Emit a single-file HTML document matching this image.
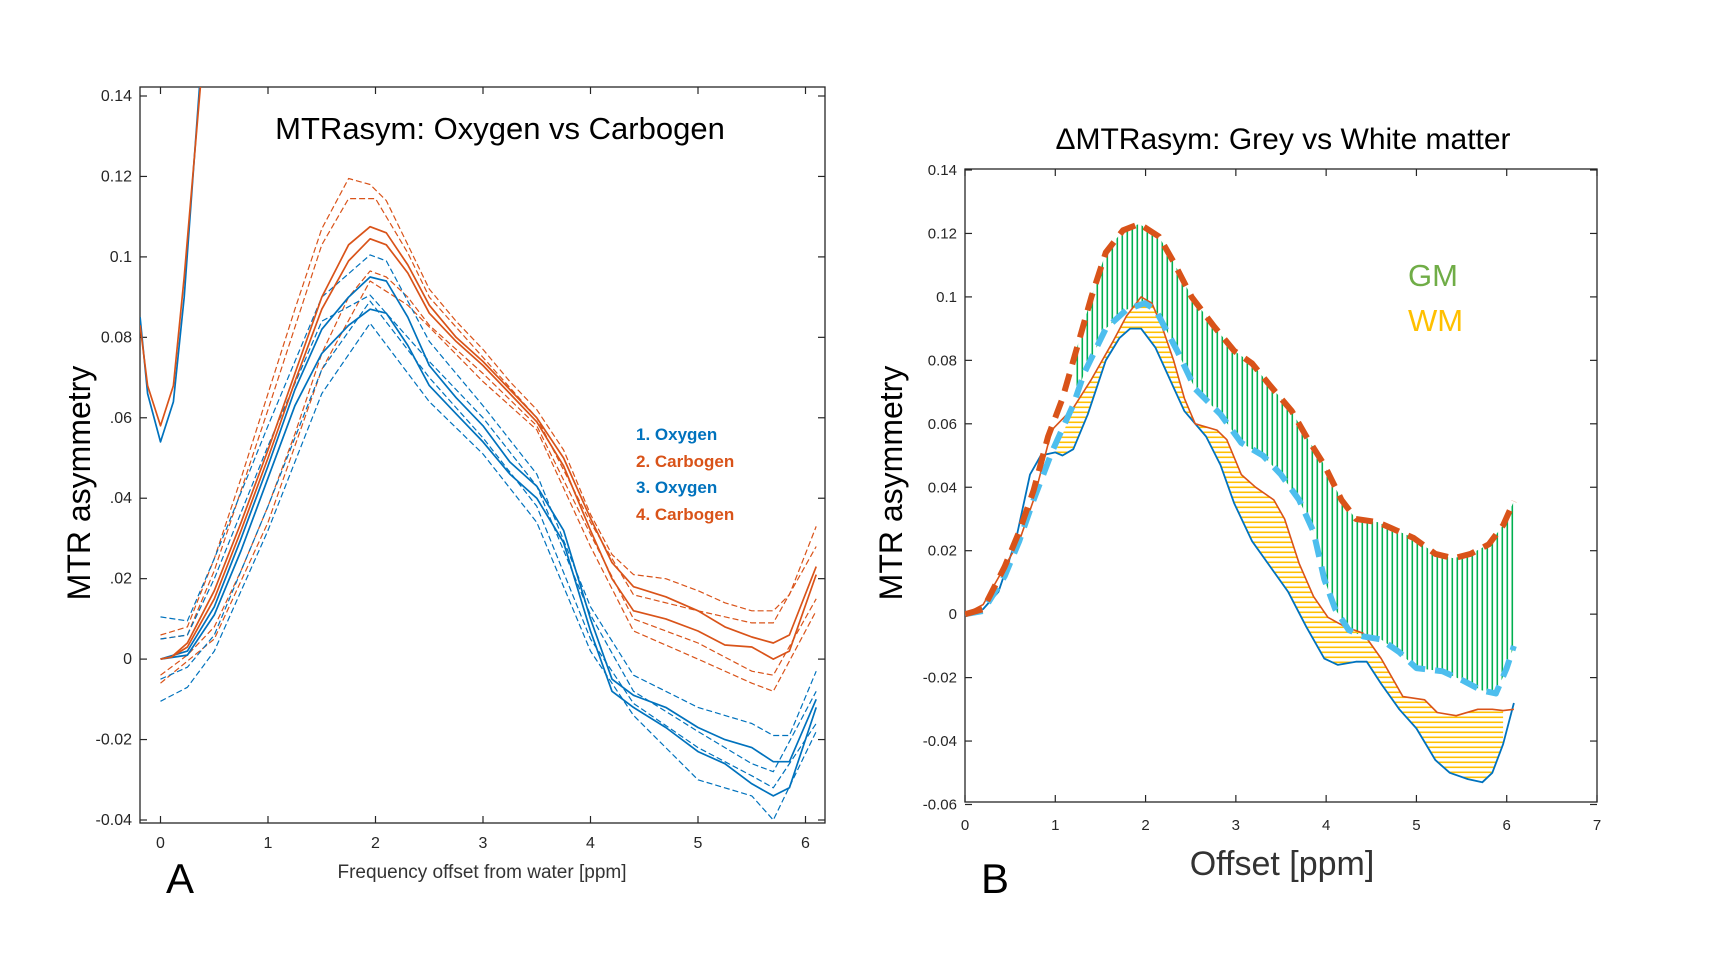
<!DOCTYPE html>
<html><head><meta charset="utf-8"><style>
html,body{margin:0;padding:0;background:#fff;}
svg{display:block;font-family:"Liberation Sans",sans-serif;}
</style></head><body>
<svg id="fig" width="1711" height="962" viewBox="0 0 1711 962">
<defs>
<pattern id="vhatch" width="5" height="10" patternUnits="userSpaceOnUse"><rect x="1.5" y="0" width="1.6" height="10" fill="#00B050"/></pattern>
<pattern id="hhatch" width="10" height="5" patternUnits="userSpaceOnUse"><rect x="0" y="1.5" width="10" height="1.6" fill="#FFC000"/></pattern>
<clipPath id="clipA"><rect x="140" y="87" width="685" height="736"/></clipPath>
<clipPath id="clipB"><rect x="965" y="169" width="632" height="633"/></clipPath>
</defs>
<g id="panelA"></g>
<g id="panelB"></g>
<text x="500" y="139" font-size="31" text-anchor="middle" fill="#000">MTRasym: Oxygen vs Carbogen</text>
<text x="1283" y="149" font-size="30" text-anchor="middle" fill="#000">ΔMTRasym: Grey vs White matter</text>
<text transform="translate(90,483) rotate(-90)" font-size="32" text-anchor="middle" fill="#000">MTR asymmetry</text>
<text transform="translate(902,483) rotate(-90)" font-size="32" text-anchor="middle" fill="#000">MTR asymmetry</text>
<text x="482" y="878" font-size="19" text-anchor="middle" fill="#333">Frequency offset from water  [ppm]</text>
<text x="1282" y="875" font-size="34" text-anchor="middle" fill="#333">Offset [ppm]</text>
<text x="180" y="893" font-size="42" text-anchor="middle" fill="#000">A</text>
<text x="995" y="893" font-size="42" text-anchor="middle" fill="#000">B</text>
<g font-size="17" font-weight="bold">
<text x="636" y="440" fill="#0072BD">1. Oxygen</text>
<text x="636" y="467" fill="#D95319">2. Carbogen</text>
<text x="636" y="493" fill="#0072BD">3. Oxygen</text>
<text x="636" y="520" fill="#D95319">4. Carbogen</text>
</g>
<text x="1408" y="286" font-size="31" fill="#70AD47">GM</text>
<text x="1408" y="331" font-size="31" fill="#FFC000">WM</text>
</svg>
<script>
// ---- Panel A data ----
const aXTicks = [0,1,2,3,4,5,6];
const aYTicks = [0.14,0.12,0.1,0.08,0.06,0.04,0.02,0,-0.02,-0.04];
const aYTickLabels = ["0.14","0.12","0.1","0.08",".06",".04",".02","0","-0.02","-0.04"];
const spikeOrange = [[-0.19,0.083],[-0.12,0.068],[0,0.058],[0.12,0.068],[0.22,0.095],[0.38,0.145]];
const spikeBlue = [[-0.19,0.085],[-0.12,0.066],[0,0.054],[0.12,0.064],[0.22,0.09],[0.37,0.145]];
const carbSolid1 = [[0,0],[0.1,0.0005],[0.25,0.004],[0.5,0.017],[0.75,0.034],[1,0.052],[1.25,0.071],[1.5,0.09],[1.75,0.103],[1.95,0.1075],[2.1,0.106],[2.3,0.098],[2.5,0.088],[2.75,0.08],[3,0.074],[3.25,0.067],[3.5,0.06],[3.75,0.05],[4,0.035],[4.2,0.024],[4.4,0.018],[4.7,0.0155],[5,0.012],[5.25,0.008],[5.5,0.0055],[5.7,0.004],[5.85,0.006],[6.1,0.023]];
const carbSolid2 = [[0,0],[0.1,0.0005],[0.25,0.003],[0.5,0.015],[0.75,0.032],[1,0.05],[1.25,0.069],[1.5,0.087],[1.75,0.099],[1.95,0.1045],[2.1,0.103],[2.3,0.096],[2.5,0.086],[2.75,0.079],[3,0.073],[3.25,0.066],[3.5,0.059],[3.75,0.048],[4,0.032],[4.2,0.02],[4.4,0.012],[4.7,0.01],[5,0.007],[5.25,0.0035],[5.5,0.003],[5.7,0.0],[5.85,0.002],[6.1,0.021]];
const oxySolid1 = [[0,0],[0.25,0.002],[0.5,0.013],[0.75,0.03],[1,0.048],[1.25,0.067],[1.5,0.082],[1.75,0.09],[1.95,0.095],[2.1,0.094],[2.3,0.085],[2.5,0.073],[2.75,0.065],[3,0.058],[3.25,0.049],[3.5,0.043],[3.75,0.032],[4,0.01],[4.2,-0.005],[4.4,-0.009],[4.7,-0.012],[5,-0.017],[5.25,-0.02],[5.5,-0.022],[5.7,-0.0255],[5.85,-0.0255],[6.1,-0.01]];
const oxySolid2 = [[0,0],[0.25,0.001],[0.5,0.011],[0.75,0.027],[1,0.045],[1.25,0.063],[1.5,0.076],[1.75,0.083],[1.95,0.087],[2.1,0.086],[2.3,0.078],[2.5,0.068],[2.75,0.061],[3,0.054],[3.25,0.046],[3.5,0.04],[3.75,0.029],[4,0.007],[4.2,-0.008],[4.4,-0.012],[4.7,-0.017],[5,-0.023],[5.25,-0.026],[5.5,-0.031],[5.7,-0.034],[5.85,-0.032],[6.1,-0.012]];
const carbDash1 = [[0,0.006],[0.25,0.008],[0.5,0.025],[0.75,0.045],[1,0.066],[1.25,0.087],[1.5,0.107],[1.75,0.1195],[1.95,0.118],[2.1,0.114],[2.3,0.103],[2.5,0.092],[2.75,0.084],[3,0.077],[3.25,0.069],[3.5,0.062],[3.75,0.052],[4,0.036],[4.2,0.026],[4.4,0.021],[4.7,0.02],[5,0.017],[5.25,0.014],[5.5,0.012],[5.7,0.012],[5.85,0.016],[6.1,0.033]];
const carbDash2 = [[0,0.005],[0.25,0.006],[0.5,0.022],[1,0.062],[1.5,0.103],[1.75,0.1145],[2,0.1145],[2.3,0.101],[2.5,0.09],[3,0.075],[3.5,0.06],[4,0.034],[4.4,0.016],[5,0.012],[5.5,0.009],[5.7,0.009],[6.1,0.028]];
const carbDash3 = [[0,-0.004],[0.25,0.001],[0.5,0.008],[0.75,0.022],[1,0.038],[1.25,0.056],[1.5,0.076],[1.75,0.09],[1.95,0.0965],[2.1,0.095],[2.3,0.09],[2.5,0.083],[3,0.071],[3.5,0.058],[4,0.031],[4.4,0.01],[5,0.004],[5.5,-0.003],[5.7,-0.004],[6.1,0.015]];
const carbDash4 = [[0,-0.006],[0.5,0.005],[1,0.034],[1.5,0.072],[1.95,0.094],[2.3,0.088],[3,0.069],[3.5,0.057],[4,0.028],[4.4,0.007],[5,0.0],[5.5,-0.006],[5.7,-0.008],[6.1,0.012]];
const oxyDash1 = [[0,0.0105],[0.25,0.0095],[0.5,0.025],[1,0.058],[1.5,0.09],[1.95,0.1005],[2.1,0.099],[2.5,0.079],[3,0.063],[3.5,0.046],[4,0.013],[4.4,-0.004],[5,-0.012],[5.5,-0.016],[5.7,-0.019],[5.85,-0.019],[6.1,-0.003]];
const oxyDash2 = [[0,0.005],[0.25,0.006],[0.5,0.02],[1,0.053],[1.5,0.084],[1.95,0.0905],[2.5,0.074],[3,0.06],[3.5,0.043],[4,0.011],[4.4,-0.008],[5,-0.018],[5.5,-0.026],[5.7,-0.028],[6.1,-0.008]];
const oxyDash3 = [[0,-0.005],[0.25,-0.002],[0.5,0.006],[1,0.038],[1.5,0.072],[1.95,0.089],[2.5,0.07],[3,0.055],[3.5,0.038],[4,0.005],[4.4,-0.011],[5,-0.022],[5.5,-0.029],[5.7,-0.032],[6.1,-0.016]];
const oxyDash4 = [[0,-0.0105],[0.25,-0.007],[0.5,0.002],[1,0.032],[1.5,0.066],[1.95,0.0835],[2.5,0.064],[3,0.051],[3.5,0.034],[4,0.002],[4.4,-0.014],[5,-0.03],[5.5,-0.034],[5.7,-0.04],[6.1,-0.018]];
// ---- Panel B data ----
const bXTicks = [0,1,2,3,4,5,6,7];
const bYTicks = [0.14,0.12,0.1,0.08,0.06,0.04,0.02,0,-0.02,-0.04,-0.06];
const bYTickLabels = ["0.14","0.12","0.1","0.08","0.06","0.04","0.02","0","-0.02","-0.04","-0.06"];
const gmCarbogen = [[0,0],[0.2,0.0016],[0.44,0.015],[0.6,0.026],[0.76,0.039],[0.92,0.056],[1.08,0.068],[1.24,0.084],[1.4,0.1],[1.56,0.114],[1.75,0.121],[1.93,0.123],[2.15,0.119],[2.31,0.111],[2.51,0.1],[2.75,0.091],[2.98,0.083],[3.18,0.079],[3.38,0.072],[3.62,0.064],[3.78,0.056],[3.98,0.047],[4.17,0.036],[4.33,0.03],[4.57,0.029],[4.73,0.027],[4.97,0.024],[5.21,0.019],[5.41,0.0176],[5.6,0.019],[5.8,0.022],[5.96,0.028],[6.08,0.0356]];
const gmOxygen = [[0,0],[0.2,0.001],[0.44,0.012],[0.6,0.023],[0.76,0.036],[0.96,0.051],[1.2,0.066],[1.32,0.076],[1.56,0.09],[1.79,0.096],[1.99,0.098],[2.11,0.096],[2.35,0.083],[2.55,0.071],[2.83,0.063],[3.06,0.054],[3.3,0.05],[3.5,0.044],[3.7,0.036],[3.86,0.026],[3.98,0.011],[4.1,0.0016],[4.25,-0.005],[4.41,-0.007],[4.61,-0.008],[4.81,-0.012],[5,-0.017],[5.29,-0.018],[5.52,-0.021],[5.72,-0.024],[5.88,-0.025],[6,-0.017],[6.08,-0.01]];
const wmCarbogen = [[0,0],[0.2,0.003],[0.44,0.015],[0.6,0.023],[0.76,0.036],[0.96,0.058],[1.2,0.065],[1.4,0.074],[1.64,0.086],[1.79,0.094],[1.95,0.1],[2.07,0.098],[2.19,0.09],[2.31,0.08],[2.43,0.068],[2.55,0.06],[2.79,0.058],[2.9,0.055],[3.06,0.044],[3.22,0.04],[3.42,0.036],[3.54,0.03],[3.7,0.016],[3.86,0.0056],[4.02,-0.001],[4.21,-0.004],[4.41,-0.006],[4.61,-0.014],[4.85,-0.026],[5.09,-0.027],[5.23,-0.031],[5.44,-0.032],[5.68,-0.03],[5.84,-0.03],[5.96,-0.0304],[6.08,-0.03]];
const wmOxygen = [[0,-0.0004],[0.2,0.0016],[0.37,0.007],[0.56,0.023],[0.72,0.044],[0.84,0.05],[1.0,0.051],[1.08,0.05],[1.2,0.052],[1.36,0.063],[1.56,0.08],[1.71,0.087],[1.83,0.09],[1.95,0.09],[2.11,0.084],[2.27,0.074],[2.43,0.064],[2.67,0.056],[2.83,0.047],[2.98,0.035],[3.18,0.023],[3.38,0.015],[3.58,0.007],[3.78,-0.004],[3.98,-0.014],[4.13,-0.016],[4.33,-0.015],[4.45,-0.015],[4.61,-0.022],[4.81,-0.03],[5,-0.036],[5.21,-0.046],[5.37,-0.05],[5.57,-0.052],[5.73,-0.053],[5.84,-0.05],[5.96,-0.041],[6.08,-0.028]];
const gmFillRange = [1.2, 6.1];
const wmFillRange = [1.0, 6.0];

const NS = "http://www.w3.org/2000/svg";
function mk(tag, attrs, parent){const e=document.createElementNS(NS,tag);for(const k in attrs)e.setAttribute(k,attrs[k]);parent.appendChild(e);return e;}
function lin(d0,d1,r0,r1){return v=>r0+(v-d0)*(r1-r0)/(d1-d0);}
function pathD(pts,sx,sy){return pts.map((p,i)=>(i?"L":"M")+sx(p[0]).toFixed(1)+","+sy(p[1]).toFixed(1)).join("");}

function axes(g, L,T,R,B, sx, sy, xt, xtl, yt, ytl, fs, xlabY){
  const box = mk("rect",{x:L,y:T,width:R-L,height:B-T,fill:"none",stroke:"#262626","stroke-width":1.3},g);
  
  
  xt.forEach((v,i)=>{
    const x=sx(v);
    const t1=mk("line",{x1:x,x2:x,y1:B,y2:B-7,stroke:"#262626","stroke-width":1.2},g);
    
    
    const t2=mk("line",{x1:x,x2:x,y1:T,y2:T+7,stroke:"#262626","stroke-width":1.2},g);
    
    
    const lb=mk("text",{x:x,y:xlabY,"font-size":fs,"text-anchor":"middle",fill:"#262626"},g);
    lb.textContent=xtl[i];
    
    
  });
  yt.forEach((v,i)=>{
    const y=sy(v);
    const t1=mk("line",{x1:L,x2:L+7,y1:y,y2:y,stroke:"#262626","stroke-width":1.2},g);
    
    
    const t2=mk("line",{x1:R,x2:R-7,y1:y,y2:y,stroke:"#262626","stroke-width":1.2},g);
    
    
    const lb=mk("text",{x:L-8,y:y+5,"font-size":fs,"text-anchor":"end",fill:"#262626"},g);
    lb.textContent=ytl[i];
    
    
  });
}
function line(g, pts, sx, sy, color, w, dash, name, clip){
  const p=mk("path",{d:pathD(pts,sx,sy),fill:"none",stroke:color,"stroke-width":w,"stroke-linejoin":"round","clip-path":clip},g);
  if(dash)p.setAttribute("stroke-dasharray",dash);
  
  
  return p;
}
function band(g, upper, lower, range, sx, sy, fill, name){
  const up=upper.filter(p=>p[0]>=range[0]&&p[0]<=range[1]);
  const lo=lower.filter(p=>p[0]>=range[0]&&p[0]<=range[1]).slice().reverse();
  const pts=up.concat(lo);
  const p=mk("path",{d:pathD(pts,sx,sy)+"Z",fill:fill,stroke:"none"},g);
  
  
}

// Panel A
const gA=document.getElementById("panelA");
const axA=lin(0,6,160.5,805.5), ayA=lin(0.14,-0.04,96,820);
axes(gA,140,87,825,823,axA,ayA,aXTicks,aXTicks.map(String),aYTicks,aYTickLabels,16,848);
const OR="#D95319", BL="#0072BD";
[[carbDash1,OR,"carbogen-dashed-1"],[carbDash2,OR,"carbogen-dashed-2"],[carbDash3,OR,"carbogen-dashed-3"],[carbDash4,OR,"carbogen-dashed-4"],
 [oxyDash1,BL,"oxygen-dashed-1"],[oxyDash2,BL,"oxygen-dashed-2"],[oxyDash3,BL,"oxygen-dashed-3"],[oxyDash4,BL,"oxygen-dashed-4"]]
 .forEach(s=>line(gA,s[0],axA,ayA,s[1],1.2,"6,3",s[2],"url(#clipA)"));
line(gA,oxySolid1,axA,ayA,BL,1.7,null,"oxygen-line-1","url(#clipA)");
line(gA,oxySolid2,axA,ayA,BL,1.7,null,"oxygen-line-3","url(#clipA)");
line(gA,carbSolid1,axA,ayA,OR,1.7,null,"carbogen-line-2","url(#clipA)");
line(gA,carbSolid2,axA,ayA,OR,1.7,null,"carbogen-line-4","url(#clipA)");
line(gA,spikeBlue,axA,ayA,BL,1.7,null,"oxygen-spike","url(#clipA)");
line(gA,spikeOrange,axA,ayA,OR,1.7,null,"carbogen-spike","url(#clipA)");

// Panel B
const gB=document.getElementById("panelB");
const axB=lin(0,7,965,1597), ayB=lin(0.14,-0.06,170,804.5);
axes(gB,965,169,1597,802,axB,ayB,bXTicks,bXTicks.map(String),bYTicks,bYTickLabels,15,830);
band(gB,gmCarbogen,gmOxygen,gmFillRange,axB,ayB,"url(#vhatch)","gm-difference-fill");
band(gB,wmCarbogen,wmOxygen,wmFillRange,axB,ayB,"url(#hhatch)","wm-difference-fill");
line(gB,wmOxygen,axB,ayB,"#0072BD",1.8,null,"wm-oxygen-line","url(#clipB)");
line(gB,wmCarbogen,axB,ayB,"#D95319",1.6,null,"wm-carbogen-line","url(#clipB)");
line(gB,gmOxygen,axB,ayB,"#4DBEEE",6,"18,10","gm-oxygen-dashed","url(#clipB)");
line(gB,gmCarbogen,axB,ayB,"#D95319",6,"18,10","gm-carbogen-dashed","url(#clipB)");
</script>
</body></html>
